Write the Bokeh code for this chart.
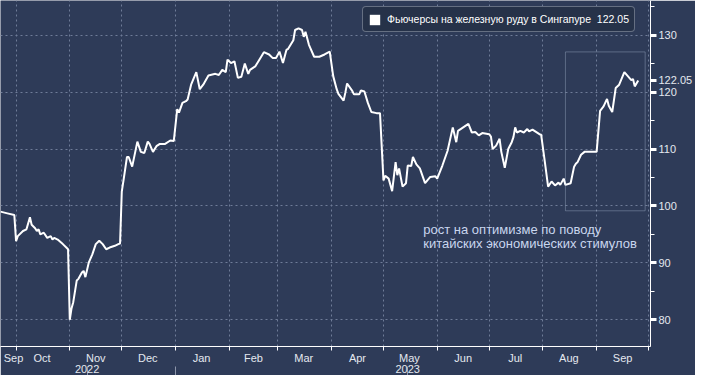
import pandas as pd
from bokeh.plotting import figure
from bokeh.models import (Range1d, FixedTicker, LinearAxis, Legend, LegendItem,
                          Label, BoxAnnotation, ColumnDataSource)
from bokeh.embed import file_html
from bokeh.resources import INLINE

# ---------------- data ----------------
dates = [
    "2022-09-22", "2022-09-26", "2022-09-30", "2022-10-01", "2022-10-02", "2022-10-05",
    "2022-10-07", "2022-10-09", "2022-10-10", "2022-10-12", "2022-10-13", "2022-10-14",
    "2022-10-15", "2022-10-17", "2022-10-19", "2022-10-21", "2022-10-22", "2022-10-23",
    "2022-10-25", "2022-10-28", "2022-10-30", "2022-10-31", "2022-11-01", "2022-11-02",
    "2022-11-03", "2022-11-05", "2022-11-06", "2022-11-08", "2022-11-09", "2022-11-10",
    "2022-11-12", "2022-11-14", "2022-11-16", "2022-11-18", "2022-11-20", "2022-11-22",
    "2022-11-24", "2022-11-27", "2022-11-29", "2022-11-30", "2022-12-01", "2022-12-02",
    "2022-12-04", "2022-12-05", "2022-12-07", "2022-12-10", "2022-12-12", "2022-12-14",
    "2022-12-16", "2022-12-17", "2022-12-19", "2022-12-21", "2022-12-23", "2022-12-26",
    "2022-12-29", "2022-12-31", "2023-01-02", "2023-01-03", "2023-01-05", "2023-01-07",
    "2023-01-08", "2023-01-10", "2023-01-13", "2023-01-15", "2023-01-17", "2023-01-20",
    "2023-01-24", "2023-01-26", "2023-01-28", "2023-01-30", "2023-01-31", "2023-02-02",
    "2023-02-04", "2023-02-06", "2023-02-08", "2023-02-10", "2023-02-12", "2023-02-13",
    "2023-02-16", "2023-02-19", "2023-02-21", "2023-02-24", "2023-02-26", "2023-02-28",
    "2023-03-02", "2023-03-04", "2023-03-06", "2023-03-07", "2023-03-10", "2023-03-11",
    "2023-03-13", "2023-03-15", "2023-03-16", "2023-03-17", "2023-03-19", "2023-03-22",
    "2023-03-25", "2023-03-28", "2023-03-31", "2023-04-02", "2023-04-04", "2023-04-05",
    "2023-04-08", "2023-04-09", "2023-04-10", "2023-04-13", "2023-04-14", "2023-04-17",
    "2023-04-18", "2023-04-20", "2023-04-22", "2023-04-24", "2023-04-27", "2023-04-29",
    "2023-05-01", "2023-05-02", "2023-05-04", "2023-05-06", "2023-05-08", "2023-05-09",
    "2023-05-10", "2023-05-12", "2023-05-14", "2023-05-15", "2023-05-17", "2023-05-18",
    "2023-05-20", "2023-05-22", "2023-05-25", "2023-05-28", "2023-05-31", "2023-06-01",
    "2023-06-04", "2023-06-07", "2023-06-10", "2023-06-12", "2023-06-13", "2023-06-16",
    "2023-06-19", "2023-06-21", "2023-06-23", "2023-06-25", "2023-06-27", "2023-07-01",
    "2023-07-02", "2023-07-03", "2023-07-05", "2023-07-07", "2023-07-08", "2023-07-10",
    "2023-07-12", "2023-07-14", "2023-07-15", "2023-07-16", "2023-07-17", "2023-07-19",
    "2023-07-21", "2023-07-23", "2023-07-24", "2023-07-26", "2023-07-28", "2023-07-30",
    "2023-07-31", "2023-08-02", "2023-08-04", "2023-08-06", "2023-08-08", "2023-08-10",
    "2023-08-11", "2023-08-13", "2023-08-14", "2023-08-17", "2023-08-19", "2023-08-20",
    "2023-08-21", "2023-08-23", "2023-08-25", "2023-08-27", "2023-08-29", "2023-09-01",
    "2023-09-03", "2023-09-05", "2023-09-07", "2023-09-08", "2023-09-10", "2023-09-12",
    "2023-09-14", "2023-09-17", "2023-09-19", "2023-09-21", "2023-09-22", "2023-09-23",
    "2023-09-25",
]
values = [
    99.0, 98.7, 98.4, 93.8, 94.7, 95.6,
    95.9, 98.0, 96.7, 96.1, 95.6, 95.9,
    95.0, 95.3, 94.4, 94.7, 94.1, 94.4,
    94.1, 93.3, 92.7, 92.4, 80.0, 82.0,
    83.1, 86.9, 87.2, 88.3, 88.6, 87.5,
    90.1, 91.5, 93.3, 93.9, 93.3, 92.4,
    92.7, 93.0, 93.3, 93.4, 102.5, 104.5,
    108.6, 108.6, 106.9, 111.3, 109.5, 109.3,
    111.3, 110.9, 109.5, 110.5, 110.9, 110.9,
    111.5, 111.4, 117.0, 116.4, 118.1, 118.4,
    118.7, 121.3, 123.5, 120.5, 121.3, 122.9,
    123.2, 123.0, 123.9, 123.5, 125.7, 125.1,
    125.4, 122.5, 122.7, 125.0, 123.2, 123.9,
    124.5, 126.0, 127.0, 126.6, 126.0, 126.0,
    127.1, 125.1, 127.4, 127.6, 129.1, 130.9,
    131.2, 130.9, 129.7, 130.6, 128.3, 126.2,
    126.2, 126.6, 127.1, 122.8, 120.5, 119.7,
    118.5, 119.9, 121.5, 120.2, 119.6, 119.6,
    120.3, 120.1, 118.1, 116.5, 116.3, 116.3,
    104.5, 105.3, 104.8, 102.6, 107.7, 105.4,
    106.6, 103.4, 104.0, 107.1, 107.0, 108.6,
    107.3, 106.6, 104.0, 105.1, 105.2, 104.8,
    107.1, 109.7, 113.8, 111.2, 113.2, 113.8,
    114.4, 112.9, 113.0, 112.4, 112.8, 112.6,
    112.2, 110.0, 110.6, 111.8, 109.5, 106.7,
    110.0, 111.2, 112.1, 113.8, 112.9, 113.2,
    112.9, 113.5, 113.1, 113.4, 113.0, 112.6,
    112.5, 108.0, 103.4, 104.3, 103.6, 104.1,
    103.7, 104.8, 103.7, 104.0, 106.9, 107.4,
    107.7, 109.0, 109.5, 109.5, 109.5, 109.5,
    116.7, 117.5, 118.8, 117.6, 116.5, 120.7,
    121.3, 123.5, 122.8, 122.1, 122.3, 121.0,
    122.05,
]
series_name = "Фьючерсы на железную руду в Сингапуре  122.05"
last_value = 122.05
last_label = "122.05"

y_ticks = [80, 90, 100, 110, 120, 130]
y_minor = [75, 85, 95, 105, 115, 125, 135]

month_starts = ["2022-10-01", "2022-11-01", "2022-12-01", "2023-01-01", "2023-02-01",
                "2023-03-01", "2023-04-01", "2023-05-01", "2023-06-01", "2023-07-01",
                "2023-08-01", "2023-09-01", "2023-10-01"]
month_label_dates = ["2022-09-29 12:00", "2022-10-16", "2022-11-16", "2022-12-16",
                     "2023-01-16", "2023-02-15", "2023-03-16", "2023-04-16", "2023-05-16",
                     "2023-06-16", "2023-07-16", "2023-08-16", "2023-09-16"]
month_labels = ["Sep", "Oct", "Nov", "Dec", "Jan", "Feb", "Mar", "Apr",
                "May", "Jun", "Jul", "Aug", "Sep"]
year_label_dates = ["2022-11-11", "2023-05-15"]
year_labels = ["2022", "2023"]
year_break = "2023-01-01"

box_left, box_right, box_bottom, box_top = "2023-08-14", "2023-09-29", 99.15, 127.05
note_lines = ["рост на оптимизме по поводу", "китайских экономических стимулов"]
note_x = "2023-05-24"
note_y = [97.2, 94.8]

x_start, x_end = "2022-09-22 00:30", "2023-10-02 02:00"
y_start, y_end = 75.32, 136.08


def ms(d):
    return float(pd.Timestamp(d).value // 10**6)


BG = "#2e3b58"
GRID = "#6f7c98"
TXT = "#e4e8ef"
FONT = "Liberation Sans"

src = ColumnDataSource(dict(x=pd.to_datetime(dates), y=values))

p = figure(width=695, height=375, x_axis_type="datetime", y_axis_location="right",
           output_backend="svg", toolbar_location=None,
           x_range=Range1d(ms(x_start), ms(x_end)), y_range=Range1d(y_start, y_end),
           min_border_left=0, min_border_top=0, min_border_right=36, min_border_bottom=24)
p.background_fill_color = BG
p.border_fill_color = BG
p.outline_line_color = None

p.line("x", "y", source=src, line_color="#ffffff", line_width=2)

# grid
p.xgrid.ticker = FixedTicker(ticks=[ms(d) for d in month_starts])
for g in (p.xgrid, p.ygrid):
    g.grid_line_color = GRID
    g.grid_line_dash = "2 3"
    g.grid_line_width = 1
p.ygrid.ticker = FixedTicker(ticks=y_ticks)

# right axis (with the last-value tag as an extra labelled tick)
ya = p.yaxis[0]
ya.ticker = FixedTicker(ticks=y_ticks + [last_value], minor_ticks=y_minor)
ya.major_label_overrides = {last_value: last_label}
ya.axis_line_color = "#ffffff"
ya.major_tick_line_color = "#ffffff"
ya.major_tick_line_width = 3
ya.major_tick_out = 6
ya.major_tick_in = 0
ya.minor_tick_line_color = "#ffffff"
ya.minor_tick_out = 4
ya.minor_tick_in = 0
ya.major_label_standoff = 2
ya.major_label_text_color = TXT
ya.major_label_text_font = FONT
ya.major_label_text_font_size = "11px"

# bottom axis: month labels mid-month, ticks at month starts (minor)
xa = p.xaxis[0]
lab_ms = [ms(d) for d in month_label_dates]
xa.ticker = FixedTicker(ticks=lab_ms, minor_ticks=[ms(d) for d in month_starts])
xa.major_label_overrides = {t: l for t, l in zip(lab_ms, month_labels)}
xa.axis_line_color = "#ffffff"
xa.major_tick_line_color = None
xa.major_tick_out = 0
xa.major_tick_in = 0
xa.minor_tick_line_color = "#ffffff"
xa.minor_tick_out = 4
xa.minor_tick_in = 0
xa.major_label_standoff = 1
xa.major_label_text_color = TXT
xa.major_label_text_font = FONT
xa.major_label_text_font_size = "11px"

# year row, with the separator tick at the year break
yr_ms = [ms(d) for d in year_label_dates]
yax = LinearAxis(ticker=FixedTicker(ticks=yr_ms + [ms(year_break)]))
yax.major_label_overrides = {**{t: l for t, l in zip(yr_ms, year_labels)}, ms(year_break): ""}
yax.axis_line_color = None
yax.major_tick_line_color = "#8d96aa"
yax.major_tick_out = 14
yax.major_tick_in = 0
yax.minor_tick_line_color = None
yax.major_label_standoff = -16
yax.major_label_text_color = TXT
yax.major_label_text_font = FONT
yax.major_label_text_font_size = "11px"
p.add_layout(yax, "below")

# highlight box + note
box = BoxAnnotation(left=ms(box_left), right=ms(box_right), bottom=box_bottom, top=box_top,
                    fill_color=None, fill_alpha=0, line_color="#c9d9f3", line_width=1)
p.add_layout(box)
for line_text, yy in zip(note_lines, note_y):
    p.add_layout(Label(x=ms(note_x), y=yy, text=line_text, text_baseline="top",
                       text_color="#c9d6ee", text_font=FONT, text_font_size="13px"))

# legend: a zero-size square at the last point supplies the white legend swatch
key_src = ColumnDataSource(dict(l=pd.to_datetime(dates[-1:]), r=pd.to_datetime(dates[-1:]),
                                t=values[-1:], b=values[-1:]))
key = p.quad(left="l", right="r", top="t", bottom="b", source=key_src,
             fill_color="#ffffff", line_color="#ffffff", line_alpha=0)
legend = Legend(items=[LegendItem(label=series_name, renderers=[key])], location=(362, 314))
legend.background_fill_color = "#263249"
legend.background_fill_alpha = 1
legend.border_line_color = "#a3abbb"
legend.border_line_width = 1
legend.label_text_color = "#ffffff"
legend.label_text_font = FONT
legend.label_text_font_size = "10.5px"
legend.glyph_width = 13
legend.glyph_height = 13
legend.label_height = 14
legend.label_standoff = 6
legend.padding = 5
legend.margin = 0
try:
    legend.border_radius = 4
except Exception:
    pass
p.add_layout(legend)

open("out.html", "w").write(file_html(p, INLINE))
